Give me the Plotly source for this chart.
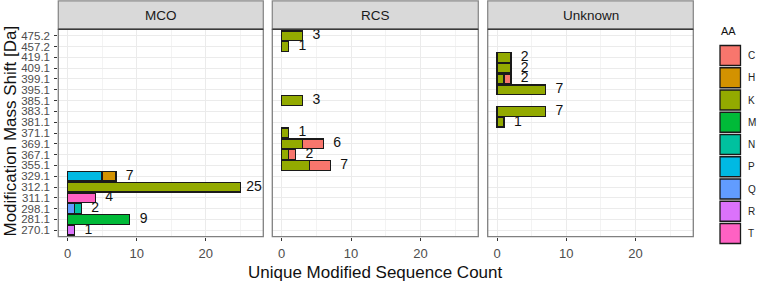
import plotly.graph_objects as go

W, H = 758, 283

# ---- data ----
mass_shifts = ["270.1", "281.1", "298.1", "311.1", "312.1", "329.1", "355.1", "367.1",
               "369.1", "371.1", "381.1", "383.1", "385.1", "395.1", "399.1", "409.1",
               "419.1", "457.2", "475.2"]
aa_levels = ["C", "H", "K", "M", "N", "P", "Q", "R", "T"]
aa_colors = ["#F8766D", "#D39200", "#93AA00", "#00BA38", "#00C19F", "#00B9E3",
             "#619CFF", "#DB72FB", "#FF61C3"]
panels = ["MCO", "RCS", "Unknown"]

mco_mass = ["329.1", "329.1", "312.1", "311.1", "298.1", "298.1", "281.1", "270.1"]
mco_aa = ["P", "H", "K", "T", "Q", "N", "M", "R"]
mco_count = [5, 2, 25, 4, 1, 1, 9, 1]

rcs_mass = ["475.2", "457.2", "385.1", "371.1", "369.1", "369.1", "367.1", "367.1", "355.1", "355.1"]
rcs_aa = ["K", "K", "K", "K", "K", "C", "K", "C", "K", "C"]
rcs_count = [3, 1, 3, 1, 3, 3, 1, 1, 4, 3]

unk_mass = ["419.1", "409.1", "399.1", "399.1", "395.1", "383.1", "381.1"]
unk_aa = ["K", "K", "K", "C", "K", "K", "K"]
unk_count = [2, 2, 1, 1, 7, 7, 1]

x_ticks = [0, 10, 20]

panel_data = [(mco_mass, mco_aa, mco_count), (rcs_mass, rcs_aa, rcs_count),
              (unk_mass, unk_aa, unk_count)]

# ---- layout geometry (pixels) ----
panel_px = [(58.3, 263.3), (272.3, 478.3), (487.7, 693.3)]
strip_top, strip_bot, plot_bot = 0.8, 29.3, 236.7
FONT = "Liberation Sans, Arial, sans-serif"

def px(x):
    return x / W

def py(y):
    return 1 - y / H

fig = go.Figure()
stack_order = list(reversed(aa_levels))
color_of = dict(zip(aa_levels, aa_colors))

for i, (mass, aa, cnt) in enumerate(panel_data):
    sfx = "" if i == 0 else str(i + 1)
    for a in stack_order:
        ys = [m for m, q in zip(mass, aa) if q == a]
        xs = [c for c, q in zip(cnt, aa) if q == a]
        if not xs:
            continue
        fig.add_trace(go.Bar(x=xs, y=ys, orientation="h", name=a, showlegend=False,
                             marker=dict(color=color_of[a], line=dict(color="#1a1a1a", width=1.3)),
                             xaxis="x" + sfx, yaxis="y" + sfx))
    totals = {}
    for m, c in zip(mass, cnt):
        totals[m] = totals.get(m, 0) + c
    fig.add_trace(go.Scatter(x=[t + 2 for t in totals.values()], y=list(totals.keys()),
                             text=[str(t) for t in totals.values()], mode="text",
                             textposition="middle center", showlegend=False,
                             textfont=dict(size=14, color="#111111", family=FONT),
                             xaxis="x" + sfx, yaxis="y" + sfx, hoverinfo="skip"))

layout = dict(
    width=W, height=H, margin=dict(l=0, r=0, t=0, b=0),
    paper_bgcolor="white", plot_bgcolor="white",
    barmode="stack", bargap=0.1, showlegend=False,
    font=dict(family=FONT),
)
shapes = []
annotations = []
for i in range(3):
    sfx = "" if i == 0 else str(i + 1)
    x0, x1 = panel_px[i]
    layout["xaxis" + sfx] = dict(
        domain=[px(x0), px(x1)], range=[-1.35, 28.35], anchor="y" + sfx,
        tickmode="array", tickvals=x_ticks, ticks="outside", ticklen=3,
        tickcolor="#333333", tickwidth=1,
        tickfont=dict(size=13, color="#4D4D4D", family=FONT), ticklabelstandoff=2,
        showgrid=True, gridcolor="#EBEBEB", gridwidth=1, zeroline=False, showline=False,
        minor=dict(tickvals=[5, 15, 25], showgrid=True, gridcolor="#F3F3F3", gridwidth=0.8),
    )
    layout["yaxis" + sfx] = dict(
        domain=[py(plot_bot), py(strip_bot)], anchor="x" + sfx,
        type="category", categoryorder="array", categoryarray=mass_shifts,
        tickmode="array", tickvals=mass_shifts, ticktext=mass_shifts,
        range=[-0.6, len(mass_shifts) - 0.4],
        showgrid=True, gridcolor="#EBEBEB", gridwidth=1.2, zeroline=False, showline=False,
        showticklabels=(i == 0), ticks="outside" if i == 0 else "",
        ticklen=3, tickcolor="#333333", tickwidth=1,
        tickfont=dict(size=11.5, color="#4D4D4D", family=FONT), ticklabelstandoff=2,
    )
    # panel border
    shapes.append(dict(type="rect", xref="paper", yref="paper", x0=px(x0), x1=px(x1),
                       y0=py(plot_bot), y1=py(strip_bot),
                       line=dict(color="#808080", width=1.3), fillcolor="rgba(0,0,0,0)"))
    # strip
    shapes.append(dict(type="rect", xref="paper", yref="paper", x0=px(x0), x1=px(x1),
                       y0=py(strip_bot), y1=py(strip_top),
                       line=dict(color="#8a8a8a", width=1.3), fillcolor="#D9D9D9", layer="below"))
    shapes.append(dict(type="line", xref="paper", yref="paper", x0=px(x0), x1=px(x1),
                       y0=py(strip_bot), y1=py(strip_bot),
                       line=dict(color="#3a3a3a", width=1.5)))
    annotations.append(dict(text=panels[i], xref="paper", yref="paper",
                            x=px((x0 + x1) / 2), y=py((strip_top + strip_bot) / 2),
                            showarrow=False, xanchor="center", yanchor="middle",
                            font=dict(size=13.5, color="#1A1A1A", family=FONT)))

# axis titles
annotations.append(dict(text="Unique Modified Sequence Count", xref="paper", yref="paper",
                        x=px(375), y=py(272), showarrow=False, xanchor="center", yanchor="middle",
                        font=dict(size=17, color="#111111", family=FONT)))
annotations.append(dict(text="Modification Mass Shift [Da]", xref="paper", yref="paper",
                        x=px(10), y=py(131.5), showarrow=False, xanchor="center", yanchor="middle",
                        textangle=-90, font=dict(size=17, color="#111111", family=FONT)))

# legend (drawn manually to mimic ggplot key boxes)
annotations.append(dict(text="AA", xref="paper", yref="paper", x=px(719), y=py(31),
                        showarrow=False, xanchor="left", yanchor="middle",
                        font=dict(size=11, color="#111111", family=FONT)))
key_top, key_step, key_size = 45.0, 22.25, 21.0
for k, (a, c) in enumerate(zip(aa_levels, aa_colors)):
    y0 = key_top + k * key_step
    shapes.append(dict(type="rect", xref="paper", yref="paper", x0=px(720), x1=px(740.5),
                       y0=py(y0 + key_size - 0.5), y1=py(y0 + 0.5),
                       fillcolor=c, line=dict(color="#1a1a1a", width=1.3)))
    annotations.append(dict(text=a, xref="paper", yref="paper", x=px(746), y=py(y0 + key_size / 2),
                            showarrow=False, xanchor="left", yanchor="middle",
                            font=dict(size=10, color="#222222", family=FONT)))

layout["shapes"] = shapes
layout["annotations"] = annotations
fig.update_layout(**layout)
fig.write_html("out.html")
